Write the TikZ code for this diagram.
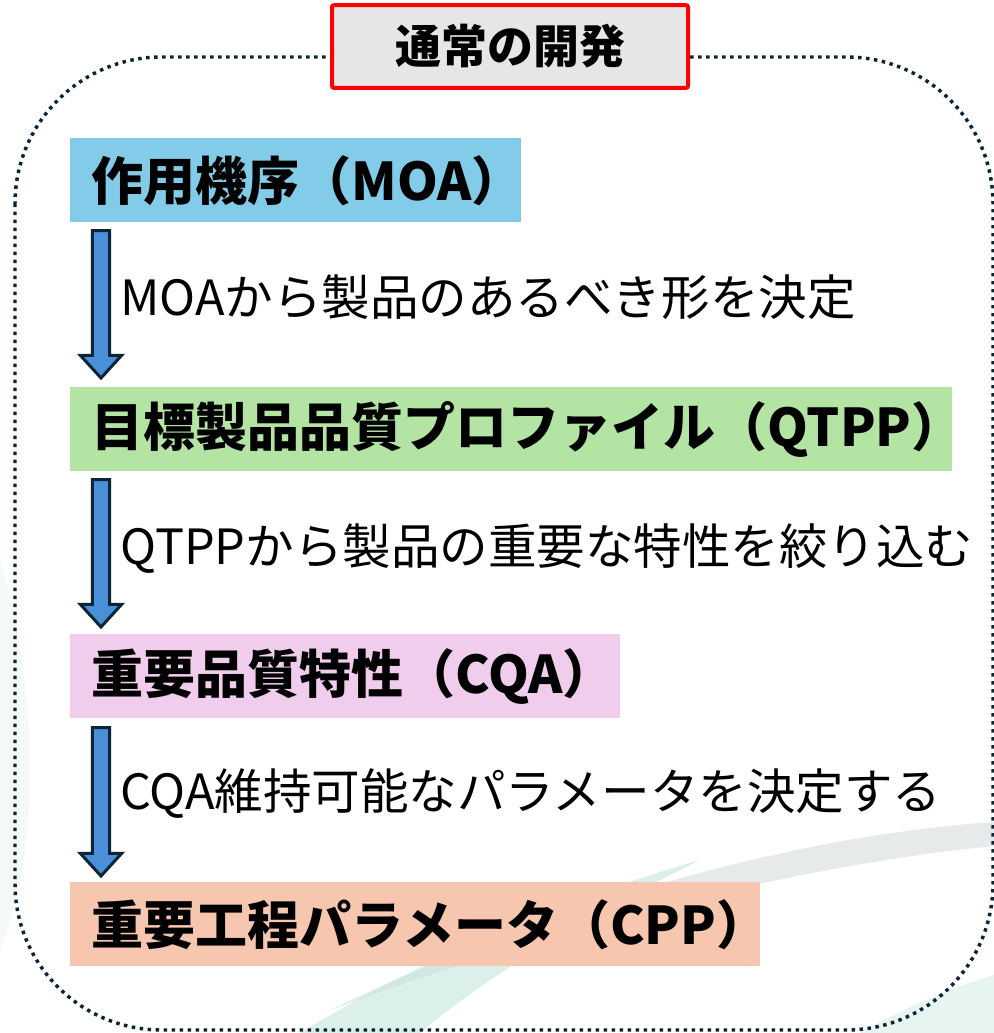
\documentclass[tikz,border=0pt]{standalone}
\usepackage{fontspec}
\setmainfont{Noto Sans CJK JP}
\usetikzlibrary{calc}
\definecolor{moablue}{HTML}{82CCEA}
\definecolor{qtppgreen}{HTML}{B4E4A4}
\definecolor{cqapink}{HTML}{F1CDED}
\definecolor{cppsalmon}{HTML}{F6C6AE}
\definecolor{arrowblue}{HTML}{4A90D9}
\definecolor{navy}{HTML}{0C2536}
\definecolor{titlegray}{HTML}{E6E6E6}
\definecolor{swgray}{HTML}{E2E5E5}
\definecolor{swteal}{HTML}{C4E6DD}
\newcommand\blockarrowdraw[2]{%
  \draw[blockarr] let \p1=(#1), \p2=(#2) in
    (\x1-6.5pt,\y1) -- (\x1+6.5pt,\y1) -- (\x1+6.5pt,\y2+17pt) --
    (\x1+15.5pt,\y2+17pt) -- (\x1,\y2) -- (\x1-15.5pt,\y2+17pt) --
    (\x1-6.5pt,\y2+17pt) -- cycle;}
\begin{document}
\begin{tikzpicture}[x=0.75pt,y=-0.75pt,
  stagebox/.style={anchor=north west, inner xsep=16pt, inner ysep=0pt,
    minimum height=63pt, align=left, font=\bfseries\fontsize{39}{44}\selectfont},
  steplabel/.style={anchor=west, inner sep=0pt, font=\fontsize{36.4}{42}\selectfont},
  blockarr/.style={fill=arrowblue, draw=navy, line width=2.25pt, line join=miter},
  dotborder/.style={draw=navy, line width=2.6pt, dash pattern=on 2.6pt off 3.4pt,
    rounded corners=110pt},
  titlebox/.style={draw=red, fill=titlegray, line width=3pt, rounded corners=1.5pt,
    minimum width=267pt, minimum height=62pt, inner sep=0pt,
    font=\bfseries\fontsize{34.5}{40}\selectfont}
]
\useasboundingbox (0,0) rectangle (994,1033);
\fill[white] (0,0) rectangle (994,1033);
% faint background swooshes
\fill[swgray, opacity=0.8] (330,1010) .. controls (560,900) and (800,835) .. (994,822)
  -- (994,846) .. controls (800,865) and (560,925) .. (330,1010) -- cycle;
\fill[swteal, opacity=0.6] (300,1033) .. controls (420,960) and (560,900) .. (700,860)
  .. controls (560,930) and (470,990) .. (420,1033) -- cycle;
\fill[swteal, opacity=0.4] (860,1033) .. controls (920,1000) and (960,985) .. (994,975)
  -- (994,1033) -- cycle;
\fill[swteal, opacity=0.2] (0,560) .. controls (40,700) and (40,850) .. (0,950) -- cycle;
% dotted frame
\draw[dotborder] (15,57) rectangle (993,1030);
% title
\node[titlebox] (title) at (510,46.5) {通常の開発};
% stages
\node[stagebox, fill=moablue, text width=306pt] (moa) at (70,138) {作用機序（MOA）};
\node[stagebox, fill=qtppgreen, text width=629.5pt] (qtpp) at (70,387) {目標製品品質プロファイル（QTPP）};
\node[stagebox, fill=cqapink, text width=380.5pt] (cqa) at (70,634) {重要品質特性（CQA）};
\node[stagebox, fill=cppsalmon, text width=485.5pt] (cpp) at (70,882) {重要工程パラメータ（CPP）};
% arrows
\coordinate (a1s) at ($(moa.south west)+(31,8)$);
\coordinate (a1e) at ($(qtpp.north west)+(31,-9)$);
\coordinate (a2s) at ($(qtpp.south west)+(31,8)$);
\coordinate (a2e) at ($(cqa.north west)+(31,-7)$);
\coordinate (a3s) at ($(cqa.south west)+(31,9)$);
\coordinate (a3e) at ($(cpp.north west)+(31,-6)$);
\blockarrowdraw{a1s}{a1e}
\blockarrowdraw{a2s}{a2e}
\blockarrowdraw{a3s}{a3e}
% step labels
\node[steplabel] (l1) at (120,297) {MOAから製品のあるべき形を決定};
\node[steplabel] (l2) at (120,549) {QTPPから製品の重要な特性を絞り込む};
\node[steplabel] (l3) at (120,794) {CQA維持可能なパラメータを決定する};
\end{tikzpicture}
\end{document}
